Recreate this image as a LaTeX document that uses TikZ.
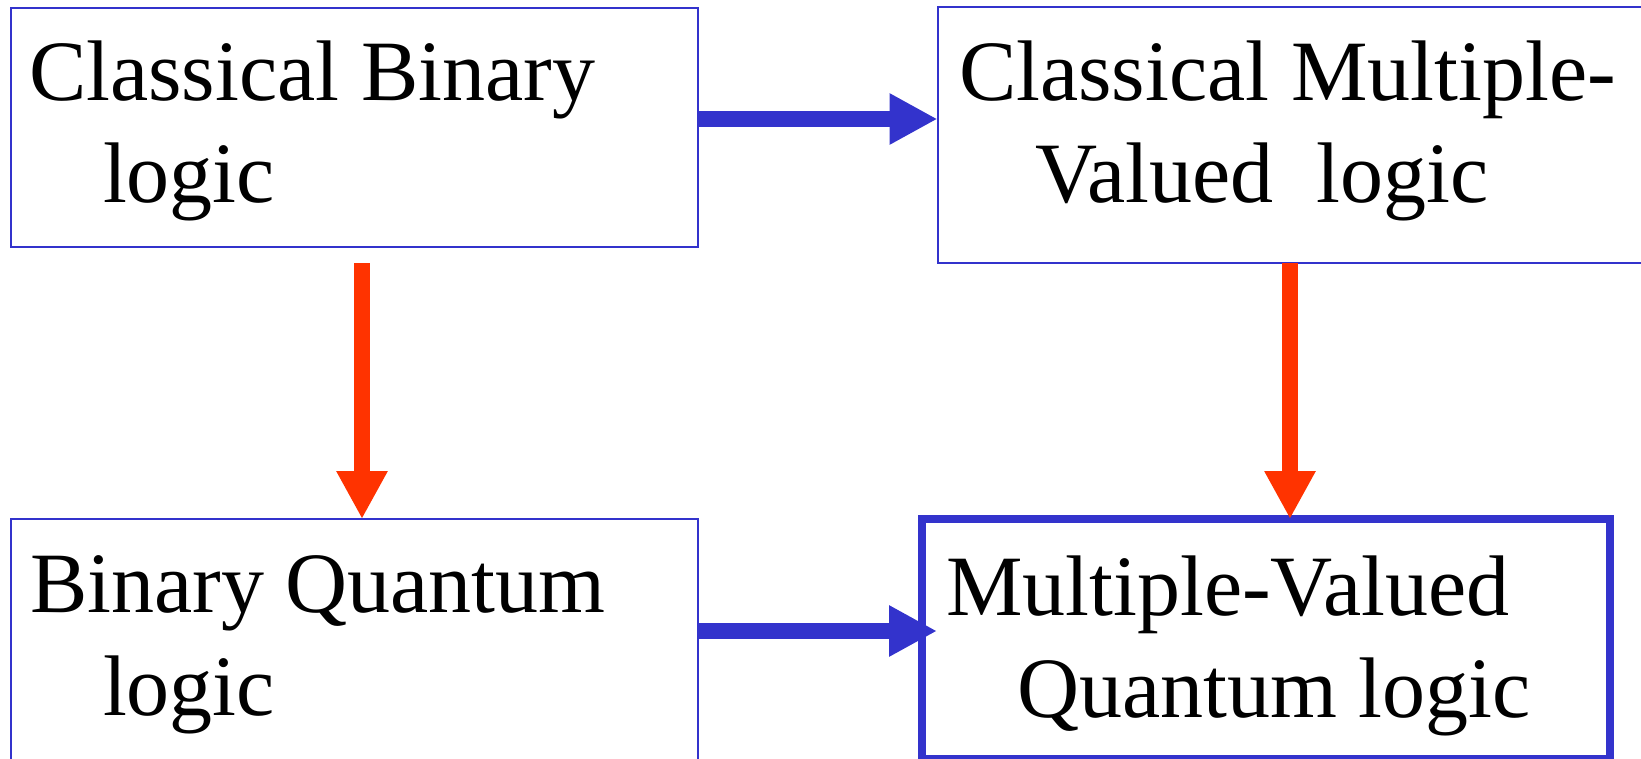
\documentclass[tikz,border=0pt]{standalone}
\usepackage{fontspec}
\setmainfont{Liberation Serif}
\usetikzlibrary{arrows.meta}
\definecolor{edgeblue}{RGB}{51,51,204}
\definecolor{flowred}{RGB}{255,51,0}
\begin{document}
\begin{tikzpicture}[x=1pt,y=-1pt,
  box/.style={draw=edgeblue, line width=2pt, inner sep=0pt, outer sep=0pt, anchor=north west},
  txt/.style={anchor=base west, inner sep=0pt, outer sep=0pt, font=\fontsize{86}{103}\selectfont},
  fatarrow/.style={line width=16pt, -{Triangle[length=48pt,width=48pt]}},
  barrow/.style={fatarrow, draw=edgeblue},
  rarrow/.style={fatarrow, draw=flowred}]
\useasboundingbox (0,0) rectangle (1641,758);

% the four logic boxes
\node[box, minimum width=687pt, minimum height=239pt] (cb) at (10.5,7.5) {};
\node[box, minimum width=714pt, minimum height=255.5pt] (cmv) at (937.5,7) {};
\node[box, minimum width=687pt, minimum height=251pt] (bq) at (10.5,519) {};
\node[box, line width=8pt, minimum width=688pt, minimum height=240pt] (mvq) at (922,519) {};

% connector end points
\coordinate (s1) at (362,263);
\coordinate (s2) at (1290,263);
\coordinate (t4) at (937,631);

% arrows
\draw[barrow] (cb.east |- 0,119) -- (cmv.west |- 0,119);
\draw[barrow] (bq.east |- t4) -- (t4);
\draw[rarrow] (s1) -- (bq.north -| s1);
\draw[rarrow] (s2) -- (mvq.north -| s2);

% labels
\node[txt] (cb1) at (29,100) {Classical Binary};
\node[txt] (cb2) at (103,202) {logic};
\node[txt] (cmv1) at (959,100) {Classical Multiple-};
\node[txt] (cmv2) at (1035,202) {Valued\ \ logic};
\node[txt] (bq1) at (30,612) {Binary Quantum};
\node[txt] (bq2) at (103,715) {logic};
\node[txt] (mvq1) at (946,615) {Multiple-Valued};
\node[txt] (mvq2) at (1017,717) {Quantum logic};
\end{tikzpicture}
\end{document}
